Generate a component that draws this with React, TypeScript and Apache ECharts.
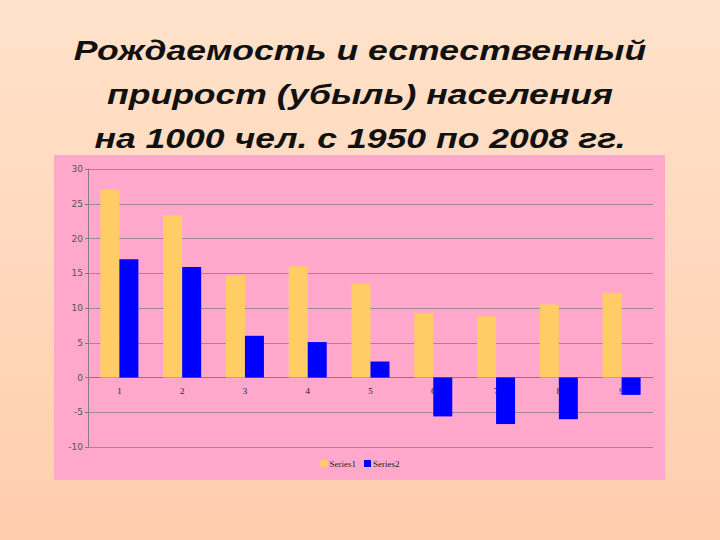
import { useEffect, useRef } from "react";
import * as echarts from "echarts";

const categories = ["1", "2", "3", "4", "5", "6", "7", "8", "9"];
const series1 = [27.1, 23.3, 14.7, 16.0, 13.5, 9.3, 8.8, 10.5, 12.2];
const series2 = [17.0, 15.9, 6.0, 5.1, 2.3, -5.6, -6.7, -6.0, -2.5];
const seriesNames = ["Series1", "Series2"];
const titleLines = [
  "Рождаемость и естественный",
  "прирост (убыль) населения",
  "на 1000 чел. с 1950 по 2008 гг.",
];

const ORANGE = "#FFCC66";
const BLUE = "#0000FF";
const GRID_COLOR = "#9c8a8e";
const AXIS_COLOR = "#8a7a7e";

// plot box, y range -10..30: zero sits at 3/4 of the height
const GRID_TOP = 169;
const GRID_BOTTOM = 447;
const Y_MIN = -10;
const Y_MAX = 30;
const zeroOffset =
  ((GRID_BOTTOM - GRID_TOP) * (0 - Y_MIN)) / (Y_MAX - Y_MIN);

export default function App() {
  const ref = useRef<HTMLDivElement | null>(null);

  useEffect(() => {
    if (!ref.current) return;
    const chart = echarts.init(ref.current, undefined, { renderer: "svg" });

    const titleTexts = titleLines.map((line, i) => ({
      type: "text",
      x: 360,
      y: 50 + i * 44,
      scaleX: 1.27,
      style: {
        text: line,
        fontFamily: "Liberation Sans, Arial, sans-serif",
        fontSize: 28,
        fontStyle: "italic",
        fontWeight: "bold",
        fill: "#111111",
        textAlign: "center",
        textVerticalAlign: "middle",
      },
    }));

    chart.setOption({
      animation: false,
      backgroundColor: new echarts.graphic.LinearGradient(0, 0, 0, 1, [
        { offset: 0, color: "#FFE2CA" },
        { offset: 1, color: "#FFCDAE" },
      ]),
      graphic: [
        {
          type: "rect",
          z: -10,
          shape: { x: 54, y: 155, width: 611, height: 325 },
          style: { fill: "#FFA8CC" },
        },
        ...titleTexts,
      ],
      grid: { left: 88, right: 67, top: GRID_TOP, bottom: 540 - GRID_BOTTOM },
      legend: {
        bottom: 67,
        left: "center",
        icon: "rect",
        itemWidth: 7,
        itemHeight: 7,
        itemGap: 8,
        textStyle: {
          fontFamily: "Liberation Serif, serif",
          fontSize: 9,
          color: "#222",
          padding: [0, 0, 0, -3],
        },
        data: seriesNames,
      },
      xAxis: {
        type: "category",
        data: categories,
        position: "bottom",
        offset: -zeroOffset,
        axisLine: { onZero: false, lineStyle: { color: AXIS_COLOR, width: 1 } },
        axisTick: { show: false },
        axisLabel: {
          fontFamily: "Liberation Serif, serif",
          fontSize: 9,
          color: "#222",
          margin: 9,
        },
        splitLine: { show: false },
      },
      yAxis: {
        type: "value",
        min: Y_MIN,
        max: Y_MAX,
        interval: 5,
        axisLine: { show: true, lineStyle: { color: AXIS_COLOR } },
        axisTick: { show: true, length: 3, lineStyle: { color: AXIS_COLOR } },
        axisLabel: {
          fontFamily: "DejaVu Sans, sans-serif",
          fontSize: 9,
          color: "#555",
          margin: 5,
        },
        splitLine: { lineStyle: { color: GRID_COLOR, width: 1 } },
      },
      series: [
        {
          name: seriesNames[0],
          type: "bar",
          data: series1,
          barWidth: 19,
          barGap: "0%",
          itemStyle: { color: ORANGE },
        },
        {
          name: seriesNames[1],
          type: "bar",
          data: series2,
          barWidth: 19,
          barGap: "0%",
          itemStyle: { color: BLUE },
        },
      ],
    });

    return () => chart.dispose();
  }, []);

  return (
    <div
      ref={ref}
      style={{ position: "absolute", left: 0, top: 0, width: 720, height: 540 }}
    />
  );
}
